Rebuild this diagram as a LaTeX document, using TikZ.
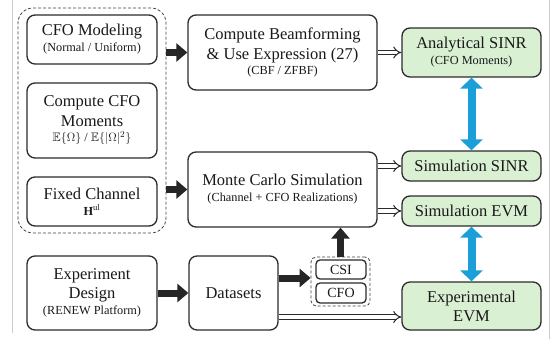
\documentclass[tikz,border=0pt]{standalone}
\usepackage{amssymb}
\usepackage{fontspec}
\setmainfont{Liberation Serif}
\usetikzlibrary{arrows.meta}
\definecolor{edge}{HTML}{2B2B2B}
\definecolor{greenfill}{HTML}{DAF0D2}
\definecolor{bluearrow}{HTML}{1A9FD8}
\tikzset{
  box/.style={draw=edge, line width=1.3pt, rounded corners=8pt, fill=white,
    inner sep=0pt, align=center, text=black!90,
    font=\fontsize{16.5}{19}\selectfont},
  gbox/.style={box, fill=greenfill},
  grp/.style={draw=black!75, line width=0.8pt, dash pattern=on 3pt off 2pt},
  fatarrow/.style={draw=black!85, line width=7pt,
    -{Triangle[length=11pt,width=18pt]}},
  dblarrow/.style={draw=edge, line width=1pt, double=white,
    double distance=3.2pt, -{Implies}},
  bluearr/.style={draw=bluearrow, line width=8pt,
    {Triangle[length=11pt,width=22pt]}-{Triangle[length=11pt,width=22pt]}},
}
\newcommand{\subt}[1]{{\fontsize{12.3}{14}\selectfont #1}}
\begin{document}
\begin{tikzpicture}[x=1pt,y=-1pt]
\useasboundingbox (0,0) rectangle (551,339);
\draw[black!20, line width=0.8pt] (12,0) -- (12,333);
\draw[black!20, line width=0.8pt] (549,0) -- (549,339);

% dashed group
\node[grp, rounded corners=15pt, minimum width=148pt, minimum height=225pt, inner sep=0pt] (grp) at (92,120.5) {};
\node[box, minimum width=130pt, minimum height=49pt] (cfomod) at (92,39.5)
  {CFO Modeling\\[-3pt]\subt{(Normal / Uniform)}};
\node[box, minimum width=130pt, minimum height=75pt] (moments) at (92,120.5)
  {Compute CFO\\[1pt]Moments\\[-4pt]\subt{$\mathbb{E}\{\Omega\}$ / $\mathbb{E}\{|\Omega|^2\}$}};
\node[box, minimum width=130pt, minimum height=49pt] (fixed) at (92,201.5)
  {Fixed Channel\\[-3pt]\subt{$\mathbf{H}^{\mathrm{ul}}$}};

\node[box, minimum width=189pt, minimum height=75pt] (beam) at (282.5,52.5)
  {Compute Beamforming\\[1pt]\& Use Expression (27)\\[-4pt]\subt{(CBF / ZFBF)}};
\node[box, minimum width=189pt, minimum height=75pt] (monte) at (282.5,189.5)
  {Monte Carlo Simulation\\[-3pt]\subt{(Channel + CFO Realizations)}};

\node[box, minimum width=130pt, minimum height=74pt] (expdes) at (92,293)
  {Experiment\\Design\\[-3pt]\subt{(RENEW Platform)}};
\node[box, minimum width=89pt, minimum height=74pt] (datasets) at (233.5,293)
  {Datasets};

\node[grp, rounded corners=5pt, minimum width=59pt, minimum height=49pt, inner sep=0pt] (csig) at (340.5,281.5) {};
\node[box, rounded corners=4pt, minimum width=50pt, minimum height=19pt,
  font=\fontsize{14}{16}\selectfont] (csi) at (341,269.5) {CSI};
\node[box, rounded corners=4pt, minimum width=50pt, minimum height=20pt,
  font=\fontsize{14}{16}\selectfont] (cfo) at (341,293) {CFO};

\node[gbox, minimum width=139pt, minimum height=49pt] (anasinr) at (471.5,52.5)
  {Analytical SINR\\[-3pt]\subt{(CFO Moments)}};
\node[gbox, minimum width=139pt, minimum height=30pt] (simsinr) at (471.5,166)
  {Simulation SINR};
\node[gbox, minimum width=139pt, minimum height=30pt] (simevm) at (471.5,211)
  {Simulation EVM};
\node[gbox, minimum width=139pt, minimum height=48pt] (expevm) at (471.5,306)
  {Experimental\\EVM};

% black arrows
\draw[fatarrow] (grp.east |- beam.west) -- (beam.west);
\draw[fatarrow] (grp.east |- monte.west) -- (monte.west);
\draw[fatarrow] (expdes.east) -- (datasets.west);
\draw[fatarrow] ([yshift=3.5pt]datasets.east |- csig.west) -- ([yshift=3.5pt]csig.west);
\draw[fatarrow] (csig.north) -- (csig.north |- monte.south);

% double arrows
\draw[dblarrow] (beam.east) -- (anasinr.west);
\draw[dblarrow] (monte.east |- simsinr.west) -- (simsinr.west);
\draw[dblarrow] (monte.east |- simevm.west) -- (simevm.west);
\draw[dblarrow] ([yshift=-11pt]datasets.east |- expevm.west) -- ([yshift=-11pt]expevm.west);

% blue arrows
\draw[bluearr] (anasinr.south) -- (simsinr.north);
\draw[bluearr] (simevm.south) -- (expevm.north);
\end{tikzpicture}
\end{document}
